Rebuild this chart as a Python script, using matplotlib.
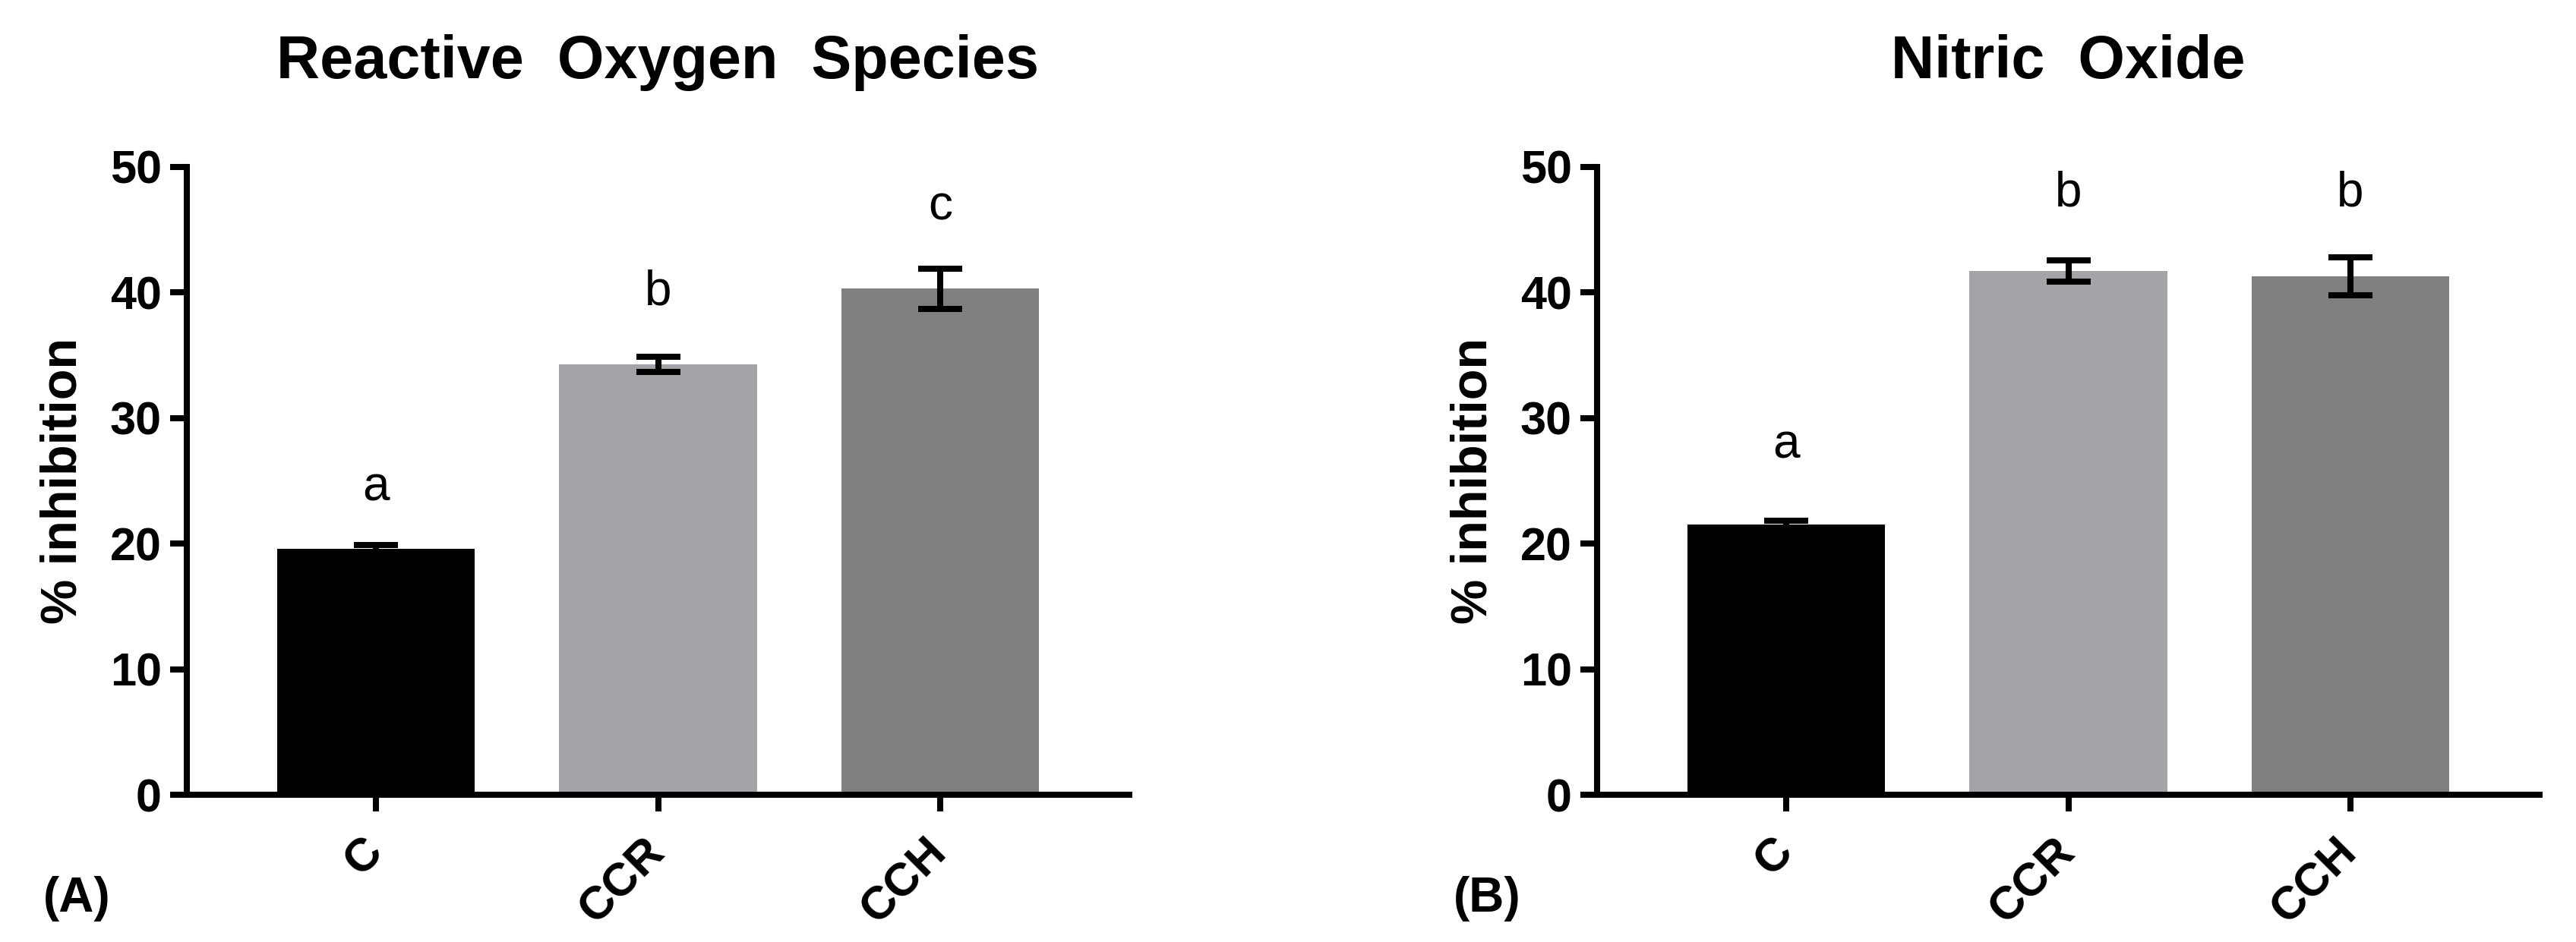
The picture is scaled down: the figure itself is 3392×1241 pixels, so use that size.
import matplotlib
matplotlib.use("Agg")
import matplotlib.pyplot as plt
import numpy as np

plt.rcParams['font.family'] = ['Liberation Sans', 'DejaVu Sans']

groups = ['C', 'CCR', 'CCH']
bar_colors = ['#000000', '#a4a3a8', '#808080']

ros_mean = [19.6, 34.3, 40.3]
ros_err = [0.3, 0.6, 1.6]
ros_letters = ['a', 'b', 'c']
ros_letter_y = [23.4, 39.0, 45.8]

no_mean = [21.5, 41.7, 41.3]
no_err = [0.3, 0.85, 1.5]
no_letters = ['a', 'b', 'b']
no_letter_y = [26.8, 46.9, 46.9]

titles = ['Reactive  Oxygen  Species', 'Nitric  Oxide']
panel_tags = ['(A)', '(B)']
ylab = '% inhibition'
yticks = [0, 10, 20, 30, 40, 50]

W, H = 3392, 1241
DPI = 200
fig = plt.figure(figsize=(W / DPI, H / DPI), dpi=DPI)

lw = 2.9
ax_w = (1487 - 246) / W
ax_h = (1047 - 220) / H
ax_y = 1 - 1047 / H
lefts = [246 / W, 2103 / W]

panels = [(ros_mean, ros_err, ros_letters, ros_letter_y),
          (no_mean, no_err, no_letters, no_letter_y)]

for i, (means, errs, letters, let_y) in enumerate(panels):
    ax = fig.add_axes([lefts[i], ax_y, ax_w, ax_h])
    x = np.arange(len(groups))
    ax.bar(x, means, width=0.7, color=bar_colors, edgecolor='none', zorder=1)
    ax.errorbar(x, means, yerr=errs, fmt='none', ecolor='black', elinewidth=lw,
                capsize=10.5, capthick=lw, zorder=3)
    # significance letters
    for xi, ly, let in zip(x, let_y, letters):
        ax.text(xi, ly, let, ha='center', va='baseline', fontsize=23)

    ax.set_xlim(-0.67, 2.67)
    ax.set_ylim(0, 50)
    ax.set_yticks(yticks)
    ax.set_xticks(x)
    ax.set_xticklabels(groups, rotation=45, ha='right', va='center',
                       rotation_mode='anchor', fontweight='bold', fontsize=22)
    for lab in ax.get_yticklabels():
        lab.set_fontweight('bold')
        lab.set_fontsize(22)
    ax.tick_params(axis='both', length=8, width=lw, color='black')
    ax.tick_params(axis='y', pad=4)
    ax.tick_params(axis='x', pad=16)
    for s in ['top', 'right']:
        ax.spines[s].set_visible(False)
    for s in ['left', 'bottom']:
        ax.spines[s].set_linewidth(lw)
    ax.set_ylabel(ylab, fontsize=24, fontweight='bold')
    ax.yaxis.set_label_coords(-0.106, 0.5)

    cx = lefts[i] + ax_w / 2
    fig.text(cx, 1 - 103 / H, titles[i], ha='center', va='baseline',
             fontsize=28.5, fontweight='bold')
    fig.text(lefts[i] - 145 / W, 1 - 1184 / H, panel_tags[i], ha='center',
             va='center', fontsize=23, fontweight='bold')

fig.savefig('out.png', dpi=DPI)
